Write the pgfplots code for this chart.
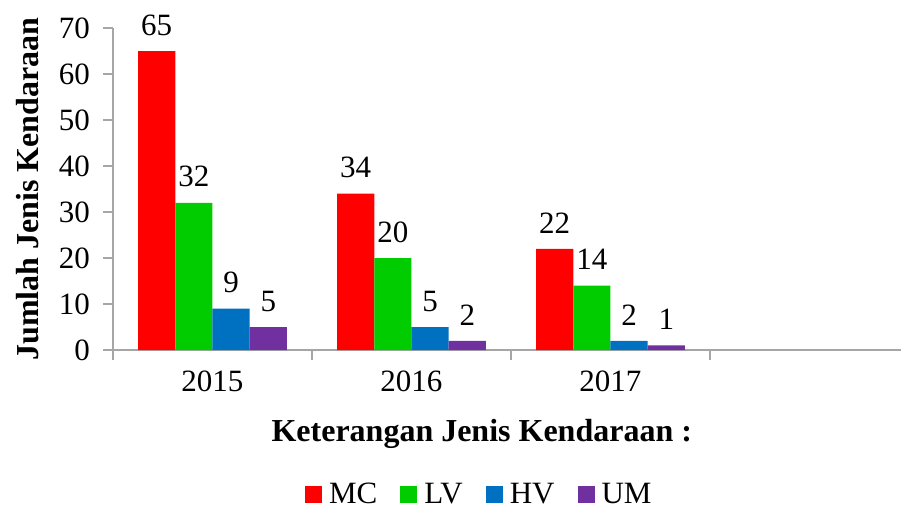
\documentclass[border=0pt]{standalone}
\usepackage{fontspec}
\setmainfont{Liberation Serif}
\usepackage{pgfplots}
\pgfplotsset{compat=1.18}
\definecolor{cMC}{RGB}{255,0,0}
\definecolor{cLV}{RGB}{0,204,0}
\definecolor{cHV}{RGB}{0,112,192}
\definecolor{cUM}{RGB}{112,48,160}
\definecolor{axgray}{RGB}{166,166,166}
\begin{document}
\begin{tikzpicture}
\useasboundingbox (-56.5pt,-80pt) rectangle (394.5pt,175pt);
\begin{axis}[
  at={(0,0)}, anchor=south west,
  scale only axis, width=394pt, height=161pt,
  xmin=-0.5, xmax=3.46, ymin=0, ymax=70,
  ybar=0pt, bar width=0.187,
  axis x line*=bottom, axis y line*=left,
  axis line style={axgray, line width=0.8pt},
  tick style={axgray, line width=0.8pt},
  tick align=outside, major tick length=5pt,
  ytick={0,10,...,70},
  xtick={-0.5,0.5,1.5,2.5},
  x tick label as interval,
  xticklabels={2015,2016,2017},
  /pgf/number format/assume math mode=true,
  tick label style={font=\fontsize{15.5}{18}\selectfont, black},
  yticklabel style={xshift=-3pt},
  xticklabel style={yshift=-2pt},
  nodes near coords,
  every node near coord/.append style={font=\fontsize{15.5}{18}\selectfont, black, yshift=4.3pt},
  xlabel={\textbf{Keterangan Jenis Kendaraan :}},
  ylabel={\textbf{Jumlah Jenis Kendaraan}},
  label style={font=\fontsize{16}{19}\selectfont},
  xlabel style={at={(axis description cs:0.468,-0.261)}, anchor=center},
  ylabel style={at={(axis description cs:-0.109,0.5)}, anchor=center},
  legend columns=4,
  legend style={draw=none, at={(axis description cs:0.468,-0.449)}, anchor=center,
    font=\fontsize{15.5}{18}\selectfont,
    nodes={inner xsep=3.5pt},
    /tikz/every even column/.append style={column sep=8pt}},
  legend image code/.code={\fill[#1] (0pt,-4.25pt) rectangle (8.5pt,4.25pt);},
  clip=false,
]
\addplot[fill=cMC, draw=none] coordinates {(0,65) (1,34) (2,22)};
\addplot[fill=cLV, draw=none] coordinates {(0,32) (1,20) (2,14)};
\addplot[fill=cHV, draw=none] coordinates {(0,9) (1,5) (2,2)};
\addplot[fill=cUM, draw=none] coordinates {(0,5) (1,2) (2,1)};
\legend{MC,LV,HV,UM}
\end{axis}
\end{tikzpicture}
\end{document}
